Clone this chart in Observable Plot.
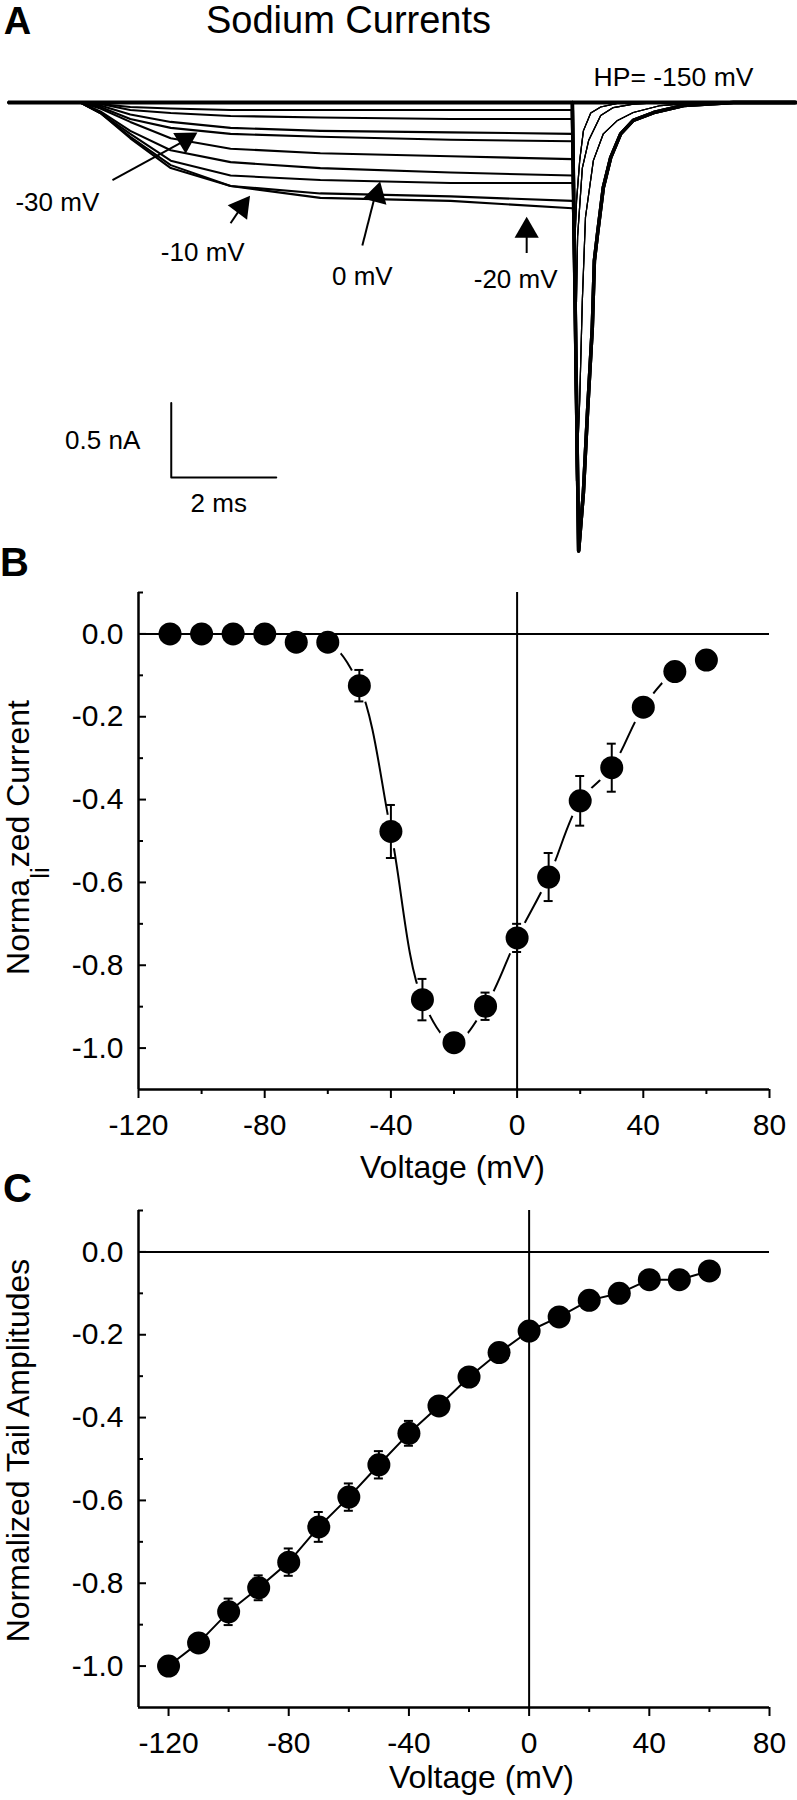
<!DOCTYPE html>
<html><head><meta charset="utf-8">
<script src="https://cdn.jsdelivr.net/npm/d3@7"></script>
<script src="https://cdn.jsdelivr.net/npm/@observablehq/plot@0.6"></script>
<style>
body{margin:0;background:#fff;}
#wrap{position:relative;width:797px;height:1800px;}
#wrap > div{position:absolute;left:0;}
svg{overflow:visible}
</style></head><body>
<div id="wrap"><div id="pa" style="top:0"></div><div id="pb" style="top:545px"></div><div id="pc" style="top:1165px"></div></div>
<script>
// ================= Panel A: sodium current traces (ms, nA) =================
const stepTimes = [0, 1.37, 1.75, 2.32, 3.09, 4.23, 5.94, 8.42, 10.74];
const stepM20 = [0, 0, -0.07, -0.24, -0.44, -0.56, -0.64, -0.66, -0.71];
const stepM10 = [0, 0, -0.07, -0.23, -0.42, -0.56, -0.61, -0.63, -0.66];
const step0   = [0, 0, -0.07, -0.21, -0.39, -0.49, -0.52, -0.54, -0.54];
const stepM30 = [0, 0, -0.06, -0.19, -0.32, -0.40, -0.44, -0.47, -0.49];
const step10  = [0, 0, -0.04, -0.13, -0.24, -0.31, -0.34, -0.36, -0.38];
const step20  = [0, 0, -0.03, -0.11, -0.17, -0.21, -0.23, -0.25, -0.26];
const step30  = [0, 0, -0.02, -0.08, -0.13, -0.17, -0.19, -0.20, -0.21];
const stepM40 = [0, 0, -0.01, -0.05, -0.07, -0.09, -0.10, -0.11, -0.11];
const step40  = [0, 0, -0.01, -0.03, -0.04, -0.05, -0.05, -0.05, -0.05];
const stepFlat = [0, 0, 0, 0, 0, 0, 0, 0, 0];

const tailDeepT  = [10.86, 10.95, 11.03, 11.12, 11.16, 11.22, 11.33, 11.47, 11.66, 11.9, 12.29, 12.86, 13.81, 15];
const tailDeepI  = [-3.01, -2.62, -2.07, -1.51, -1.06, -0.88, -0.57, -0.37, -0.21, -0.12, -0.067, -0.02, 0, 0];
const tailMidT   = [10.82, 10.88, 10.93, 10.99, 11.14, 11.33, 11.6, 11.9, 12.42, 13.18, 15];
const tailMidI   = [-2.54, -2.0, -1.33, -0.77, -0.39, -0.21, -0.12, -0.067, -0.02, 0, 0];
const tailSmallT = [10.8, 10.84, 10.93, 11.05, 11.28, 11.52, 11.9, 12.4, 15];
const tailSmallI = [-1.7, -0.9, -0.44, -0.255, -0.087, -0.034, -0.01, 0, 0];
const tailTinyT  = [10.78, 10.82, 10.88, 10.95, 11.09, 11.28, 11.66, 15];
const tailTinyI  = [-1.0, -0.66, -0.39, -0.19, -0.07, -0.03, 0, 0];

const traceSteps = [stepM20, stepM10, step0, stepM30, step10, step20, step30, stepM40, step40, stepFlat, stepFlat, stepFlat];
const traceTails = ["tiny", "small", "tiny", "small", "tiny", "mid", "small", "mid", "deep", "deep", "deep", "mid"];

const annText = ["-30 mV", "-10 mV", "0 mV", "-20 mV"];
const annT = [0.93, 3.70, 6.74, 9.66];
const annI = [-0.67, -1.01, -1.17, -1.19];
const arrowT1 = [1.98, 4.23, 6.74, 9.87], arrowI1 = [-0.52, -0.81, -0.96, -1.01];
const arrowT2 = [3.28, 4.42, 6.97, 9.87], arrowI2 = [-0.27, -0.71, -0.64, -0.89];
const headT = [3.37, 4.44, 7.01, 9.87], headI = [-0.25, -0.70, -0.62, -0.86];
const headRot = [59, 37, 15, 0];

const scaleT0 = 3.1, scaleI0 = -2.517, scaleMs = 2, scaleNa = 0.5;

// ================= Panel B: normalized current =================
const voltB = [-110, -100, -90, -80, -70, -60, -50, -40, -30, -20, -10, 0, 10, 20, 30, 40, 50, 60];
const currB = [0.0, 0.0, 0.0, 0.0, -0.02, -0.02, -0.125, -0.477, -0.883, -0.987, -0.899, -0.734, -0.587, -0.403, -0.323, -0.177, -0.091, -0.063];
const semB  = [0, 0, 0, 0, 0, 0, 0.038, 0.064, 0.05, 0.015, 0.033, 0.034, 0.058, 0.06, 0.058, 0.01, 0, 0];

// ================= Panel C: normalized tail amplitudes =================
const voltC = [-120, -110, -100, -90, -80, -70, -60, -50, -40, -30, -20, -10, 0, 10, 20, 30, 40, 50, 60];
const tailC = [-1.0, -0.944, -0.869, -0.811, -0.749, -0.664, -0.592, -0.514, -0.438, -0.372, -0.302, -0.243, -0.191, -0.157, -0.117, -0.10, -0.067, -0.067, -0.046];
const semC  = [0.005, 0.01, 0.032, 0.03, 0.033, 0.036, 0.033, 0.033, 0.03, 0.02, 0.015, 0.01, 0.01, 0.01, 0.01, 0.01, 0.01, 0.015, 0.01];

const yMajor = [0, -0.2, -0.4, -0.6, -0.8, -1.0];
const yMinor = [0.1, -0.1, -0.3, -0.5, -0.7, -0.9];
const xMajor = [-120, -80, -40, 0, 40, 80];
const xMinor = [-100, -60, -20, 20, 60];

const FONT = "'Liberation Sans', Arial, Helvetica, sans-serif";
const baseStyle = {fontFamily: FONT, background: "transparent", overflow: "visible"};
const C = {textAnchor: "middle", lineAnchor: "middle"};

// ---------- build panel A ----------
const tails = {
  deep: {T: tailDeepT, I: tailDeepI}, mid: {T: tailMidT, I: tailMidI},
  small: {T: tailSmallT, I: tailSmallI}, tiny: {T: tailTinyT, I: tailTinyI}
};
const stepRows = traceSteps.flatMap((s, k) => stepTimes.map((t, j) => ({k, t, I: s[j]})));
const tailRows = traceSteps.flatMap((s, k) => {
  const sh = tails[traceTails[k]];
  return [{k, t: stepTimes[stepTimes.length - 1], I: s[s.length - 1], shape: traceTails[k]},
          ...sh.T.map((t, j) => ({k, t, I: sh.I[j], shape: traceTails[k]}))];
});
const annRows = annText.map((s, i) => ({s, t: annT[i], I: annI[i]}));
const arrowRows = arrowT1.map((_, i) => ({x1: arrowT1[i], y1: arrowI1[i], x2: arrowT2[i], y2: arrowI2[i], hx: headT[i], hy: headI[i], rot: headRot[i]}));
const barPts = [[scaleT0, scaleI0 + scaleNa], [scaleT0, scaleI0], [scaleT0 + scaleMs, scaleI0]];

const plotA = Plot.plot({
  width: 797, height: 560, margin: 0,
  x: {domain: [0, 15], range: [8, 795.5], axis: null},
  y: {domain: [-3.074, 0.685], range: [560, 0], axis: null},
  style: baseStyle,
  marks: [
    Plot.ruleY([0], {x1: 0, x2: 15, strokeWidth: 4}),
    Plot.line(stepRows, {x: "t", y: "I", z: "k", stroke: "black", strokeWidth: 2.1}),
    Plot.line(tailRows.filter(d => d.shape !== "deep"), {x: "t", y: "I", z: "k", stroke: "black", strokeWidth: 1.2}),
    Plot.line(tailRows.filter(d => d.shape === "deep"), {x: "t", y: "I", z: "k", stroke: "black", strokeWidth: 3.5}),
    Plot.link(arrowRows, {x1: "x1", y1: "y1", x2: "x2", y2: "y2", stroke: "black", strokeWidth: 2}),
    Plot.dot(arrowRows, {x: "hx", y: "hy", symbol: "triangle", r: 9, fill: "black", rotate: "rot"}),
    Plot.text(annRows, {x: "t", y: "I", text: "s", fontSize: 26, ...C}),
    Plot.line(barPts, {x: d => d[0], y: d => d[1], stroke: "black", strokeWidth: 2}),
    Plot.text(["0.5 nA"], {x: scaleT0, y: scaleI0 + scaleNa / 2, dx: -31, textAnchor: "end", lineAnchor: "middle", fontSize: 26}),
    Plot.text(["2 ms"], {x: scaleT0 + scaleMs / 2, y: scaleI0, dx: -5, dy: 26, fontSize: 26, ...C}),
    Plot.text(["HP= -150 mV"], {frameAnchor: "top-left", dx: 673, dy: 77, fontSize: 26.5, ...C}),
    Plot.text(["Sodium Currents"], {frameAnchor: "top-left", dx: 348, dy: 20, fontSize: 38, ...C}),
    Plot.text(["A"], {frameAnchor: "top-left", dx: 17, dy: 21, fontSize: 38, fontWeight: "bold", ...C})
  ]
});
document.getElementById("pa").appendChild(plotA);

// ---------- shared axis helpers ----------
function axesMarks(xmin, ymin) {
  return [
    Plot.ruleX([xmin], {strokeWidth: 2.5}),
    Plot.ruleY([ymin], {strokeWidth: 2.5}),
    Plot.ruleY(yMajor, {x1: xmin, x2: xmin, insetRight: -8, strokeWidth: 2}),
    Plot.ruleY(yMinor, {x1: xmin, x2: xmin, insetRight: -5, strokeWidth: 2}),
    Plot.ruleX(xMajor, {y1: ymin, y2: ymin, insetBottom: -9, strokeWidth: 2}),
    Plot.ruleX(xMinor, {y1: ymin, y2: ymin, insetBottom: -5, strokeWidth: 2}),
    Plot.text(yMajor, {x: xmin, y: d => d, dx: -15, textAnchor: "end", lineAnchor: "middle", text: d => d.toFixed(1), fontSize: 30}),
    Plot.text(xMajor, {x: d => d, y: ymin, dy: 36, text: d => String(d), fontSize: 30, ...C})
  ];
}
function errMarks(rows) {
  const r = rows.filter(d => d.e > 0);
  return [
    Plot.ruleX(r, {x: "v", y1: d => d.i - d.e, y2: d => d.i + d.e, strokeWidth: 2}),
    Plot.ruleY(r, {y: d => d.i - d.e, x1: "v", x2: "v", insetLeft: -4.5, insetRight: -4.5, strokeWidth: 2}),
    Plot.ruleY(r, {y: d => d.i + d.e, x1: "v", x2: "v", insetLeft: -4.5, insetRight: -4.5, strokeWidth: 2})
  ];
}

// ---------- build panel B ----------
const rowsB = voltB.map((v, k) => ({v, i: currB[k], e: semB[k]}));
const plotB = Plot.plot({
  width: 797, height: 620, marginLeft: 138, marginRight: 28, marginTop: 47, marginBottom: 76,
  x: {domain: [-120, 80], axis: null},
  y: {domain: [-1.1, 0.1], axis: null},
  style: baseStyle,
  marks: [
    Plot.line(rowsB, {x: "v", y: "i", curve: "catmull-rom", stroke: "black", strokeWidth: 2}),
    Plot.dot(rowsB, {x: "v", y: "i", r: 17, fill: "white"}),
    Plot.ruleY([0], {strokeWidth: 2}),
    Plot.ruleX([0], {strokeWidth: 2}),
    ...axesMarks(-120, -1.1),
    ...errMarks(rowsB),
    Plot.dot(rowsB, {x: "v", y: "i", r: 11.5, fill: "black"}),
    Plot.text(["B"], {frameAnchor: "top-left", dx: -124, dy: -29, fontSize: 40, fontWeight: "bold", ...C}),
    Plot.text(["Normalized Current"], {frameAnchor: "left", dx: -120, dy: -3.5, rotate: -90, fontSize: 32, ...C}),
    Plot.text(["Voltage (mV)"], {frameAnchor: "bottom", dx: -1.5, dy: 78, fontSize: 32, ...C})
  ]
});
document.getElementById("pb").appendChild(plotB);
// the original label has the letters "li" dropped below the baseline
const tB = [...plotB.querySelectorAll("text")].find(t => t.textContent === "Normalized Current");
if (tB) {
  tB.textContent = "";
  const mk = (s, attrs) => {
    const ts = document.createElementNS("http://www.w3.org/2000/svg", "tspan");
    ts.textContent = s;
    for (const a in attrs) ts.setAttribute(a, attrs[a]);
    tB.appendChild(ts);
  };
  mk("Norma", {});
  mk("li", {dy: "20", "font-size": "26"});
  mk("zed Current", {dy: "-20"});
}

// ---------- build panel C ----------
const rowsC = voltC.map((v, k) => ({v, i: tailC[k], e: semC[k]}));
const plotC = Plot.plot({
  width: 797, height: 635, marginLeft: 138, marginRight: 28, marginTop: 45, marginBottom: 93,
  x: {domain: [-130, 80], axis: null},
  y: {domain: [-1.1, 0.1], axis: null},
  style: baseStyle,
  marks: [
    Plot.ruleY([0], {strokeWidth: 2}),
    Plot.ruleX([0], {strokeWidth: 2}),
    Plot.line(rowsC, {x: "v", y: "i", stroke: "black", strokeWidth: 2}),
    ...axesMarks(-130, -1.1),
    ...errMarks(rowsC),
    Plot.dot(rowsC, {x: "v", y: "i", r: 11.5, fill: "black"}),
    Plot.text(["C"], {frameAnchor: "top-left", dx: -121, dy: -21, fontSize: 40, fontWeight: "bold", ...C}),
    Plot.text(["Normalized Tail Amplitudes"], {frameAnchor: "left", dx: -120, dy: -8.5, rotate: -90, fontSize: 32, ...C}),
    Plot.text(["Voltage (mV)"], {frameAnchor: "bottom", dx: 27.5, dy: 70, fontSize: 32, ...C})
  ]
});
document.getElementById("pc").appendChild(plotC);
</script>
</body></html>
